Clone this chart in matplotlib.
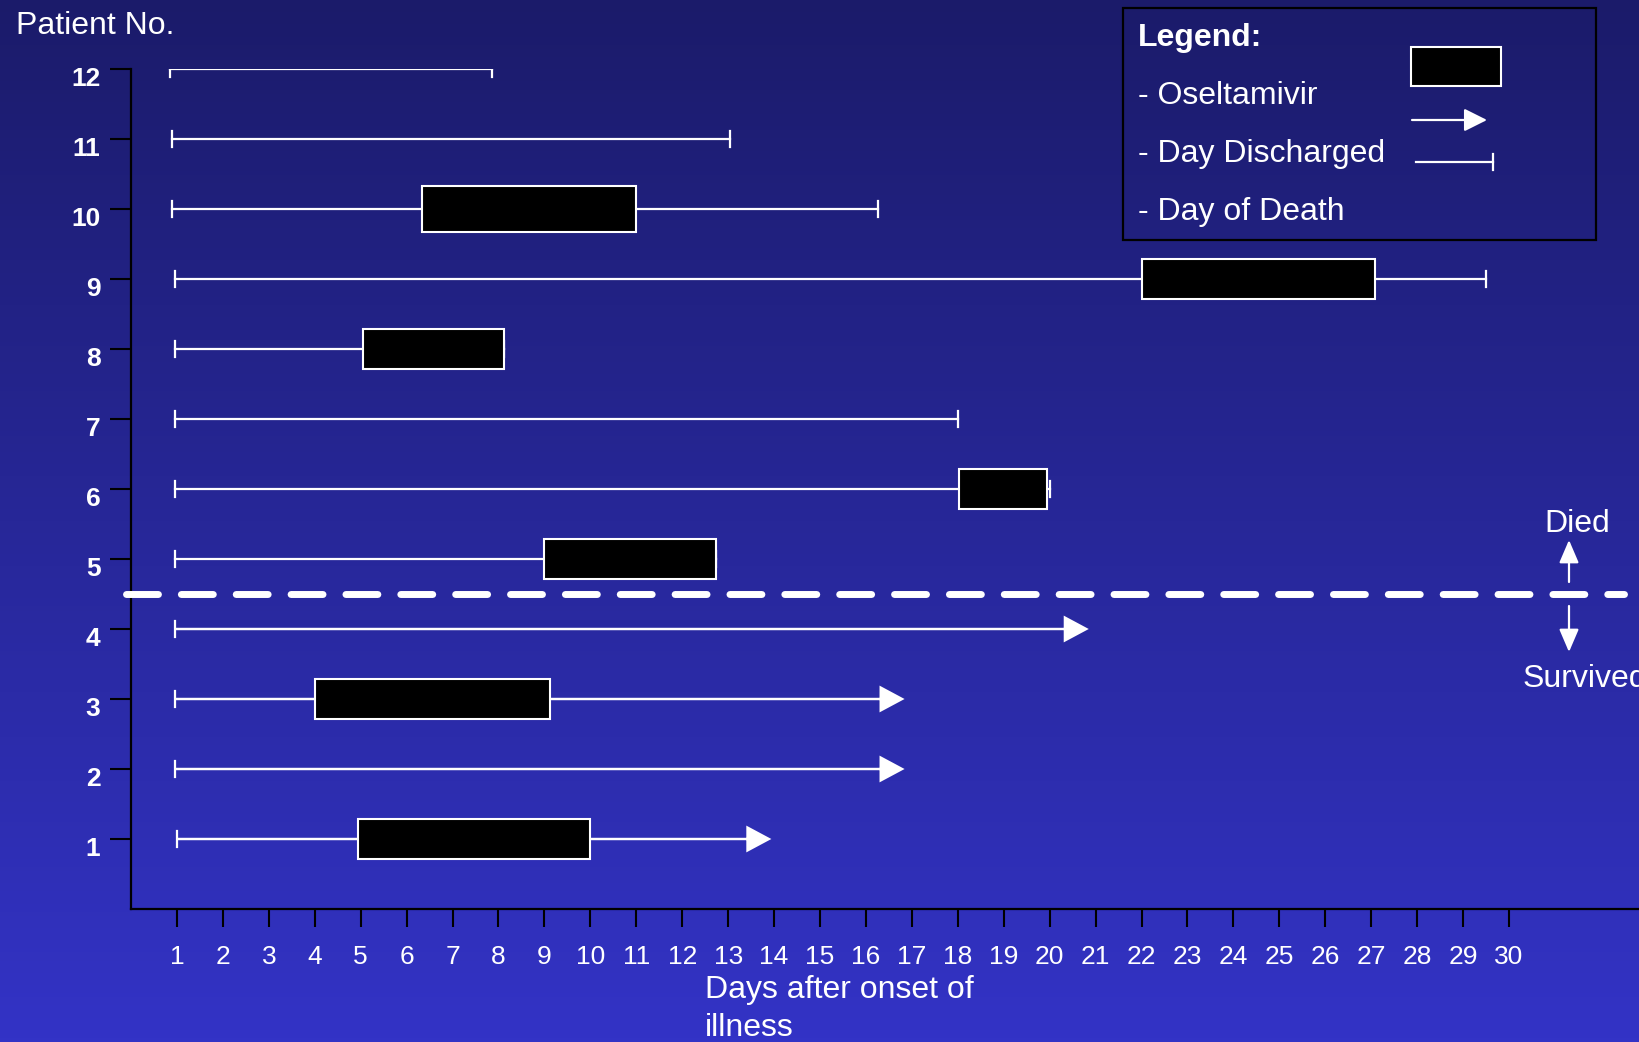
import matplotlib.pyplot as plt
import matplotlib.transforms as mtransforms
import numpy as np
from matplotlib.patches import Rectangle

plt.rcParams['font.family'] = ['Liberation Sans', 'DejaVu Sans']

# Patient timelines (days after onset of illness)
patients = [12, 11, 10, 9, 8, 7, 6, 5, 4, 3, 2, 1]
start_day = [0.85, 0.9, 0.9, 0.95, 0.95, 0.95, 0.95, 0.95, 0.95, 0.95, 0.95, 1.0]
end_day = [7.85, 13.05, 16.27, 29.5, 8.13, 18.0, 20.0, 12.74, 20.8, 16.79, 16.79, 13.89]
# oseltamivir course (start, stop); None where not given
osel_start = [None, None, 6.33, 22.0, 5.04, None, 18.03, 9.0, None, 4.0, None, 4.95]
osel_stop = [None, None, 11.0, 27.08, 8.13, None, 19.95, 12.74, None, 9.13, None, 10.0]
outcome = ['died'] * 8 + ['discharged'] * 4

day_ticks = list(range(1, 31))
patient_ticks = list(range(1, 13))

W, H = 1639, 1042
fig = plt.figure(figsize=(W / 100, H / 100), dpi=100)

# background gradient
bg = fig.add_axes([0, 0, 1, 1], zorder=0)
top = np.array([27, 27, 106]) / 255
bottom = np.array([51, 51, 198]) / 255
t = np.linspace(0, 1, 256)[:, None, None]
grad = top + (bottom - top) * t
bg.imshow(np.repeat(grad, 2, axis=1), aspect='auto', extent=[0, 1, 0, 1])
bg.axis('off')

ax = fig.add_axes([131 / W, 1 - 909 / H, 1 - 131 / W, (909 - 69) / H], zorder=1)
ax.patch.set_alpha(0)
ax.set_xlim(0, 32.83)
ax.set_ylim(0, 12)
for side in ['top', 'right']:
    ax.spines[side].set_visible(False)
for side in ['left', 'bottom']:
    ax.spines[side].set_color('black')
    ax.spines[side].set_linewidth(1.6)

ax.set_xticks(day_ticks)
ax.set_xticklabels([str(d) for d in day_ticks], fontsize=19)
ax.set_yticks(patient_ticks)
ax.set_yticklabels([str(p) for p in patient_ticks], fontweight='bold', fontsize=19)
ax.tick_params(axis='x', direction='out', length=13, width=1.5, color='black',
               labelcolor='white', pad=13)
ax.tick_params(axis='y', direction='out', length=15, width=1.5, color='black',
               labelcolor='white', pad=7)
# patient numbers sit a little below their ticks
shift = mtransforms.ScaledTranslation(0, -0.07, fig.dpi_scale_trans)
for lab in ax.get_yticklabels():
    lab.set_transform(lab.get_transform() + shift)

lw = 1.6
cap = 0.12
for p, s, e, os_, oe, out in zip(patients, start_day, end_day, osel_start, osel_stop, outcome):
    ax.plot([s, s], [p - cap, p + cap], color='white', lw=lw, zorder=3)
    if out == 'discharged':
        ax.arrow(s, p, e - s, 0, color='white', lw=lw, width=0.0,
                 head_width=0.33, head_length=0.47, length_includes_head=True,
                 zorder=3)
    else:
        ax.plot([s, e], [p, p], color='white', lw=lw, zorder=3)
        ax.plot([e, e], [p - cap, p + cap], color='white', lw=lw, zorder=3)
    if os_ is not None:
        bh = 0.66 if p == 10 else 0.56
        ax.add_patch(Rectangle((os_, p - bh / 2), oe - os_, bh, facecolor='black',
                               edgecolor='white', lw=1.5, zorder=4))

# died / survived divider
ax.axhline(4.5, xmin=-0.003, xmax=0.99, color='white', lw=5,
           linestyle=(0, (4.6, 3.3)), dash_capstyle='round', clip_on=False, zorder=3)

# overlay in pixel coordinates for the annotations
ov = fig.add_axes([0, 0, 1, 1], zorder=2)
ov.set_xlim(0, W)
ov.set_ylim(H, 0)
ov.axis('off')

ov.text(16, 26, 'Patient No.', color='white', fontsize=23, va='center', ha='left')
ov.text(705, 990, 'Days after onset of', color='white', fontsize=23, va='center', ha='left')
ov.text(705, 1028, 'illness', color='white', fontsize=23, va='center', ha='left')

ov.text(1577, 524, 'Died', color='white', fontsize=23, va='center', ha='center')
ov.text(1523, 679, 'Survived', color='white', fontsize=23, va='center', ha='left')
arrow_kw = dict(arrowstyle='-|>,head_length=1.4,head_width=0.6', color='white',
                lw=1.6, shrinkA=0, shrinkB=0)
ov.annotate('', xy=(1569, 540), xytext=(1569, 582), arrowprops=arrow_kw)
ov.annotate('', xy=(1569, 652), xytext=(1569, 606), arrowprops=arrow_kw)

# legend box
ov.add_patch(Rectangle((1123, 8), 473, 232, facecolor='none', edgecolor='black', lw=1.6))
ov.text(1138, 38, 'Legend:', color='white', fontsize=23, fontweight='bold', va='center')
ov.text(1138, 96, '- Oseltamivir', color='white', fontsize=23, va='center')
ov.text(1138, 154, '- Day Discharged', color='white', fontsize=23, va='center')
ov.text(1138, 212, '- Day of Death', color='white', fontsize=23, va='center')
ov.add_patch(Rectangle((1411, 47), 90, 39, facecolor='black', edgecolor='white', lw=1.5))
ov.annotate('', xy=(1487, 120), xytext=(1412, 120),
            arrowprops=dict(arrowstyle='-|>,head_length=1.4,head_width=0.7',
                            color='white', lw=1.6, shrinkA=0, shrinkB=0))
ov.plot([1416, 1493], [162, 162], color='white', lw=1.6)
ov.plot([1493, 1493], [154, 170], color='white', lw=1.6)

fig.savefig('out.png', dpi=100)
